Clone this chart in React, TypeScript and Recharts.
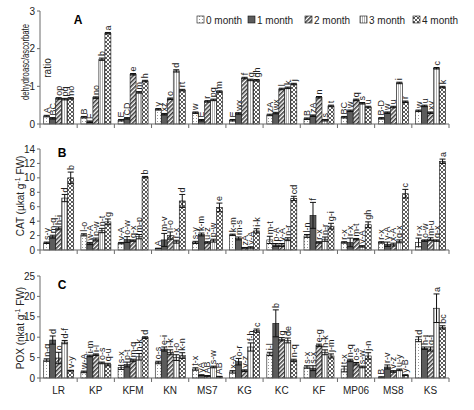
import React from 'react'
import { BarChart, Bar, XAxis, YAxis, ErrorBar } from 'recharts'

const categories = ['LR', 'KP', 'KFM', 'KN', 'MS7', 'KG', 'KC', 'KF', 'MP06', 'MS8', 'KS']
const months = ['0 month', '1 month', '2 month', '3 month', '4 month']

// A: dehydroascorbate / ascorbate ratio, one array per month
const ratioValues = [
  [0.21, 0.18, 0.1, 0.39, 0.3, 0.1, 0.24, 0.14, 0.18, 0.15, 0.35],
  [0.15, 0.06, 0.15, 0.26, 0.1, 0.28, 0.29, 0.22, 0.35, 0.3, 0.48],
  [0.68, 0.7, 1.32, 0.67, 0.6, 1.22, 0.93, 0.71, 0.64, 0.45, 0.3],
  [0.66, 1.72, 0.84, 1.41, 0.64, 1.17, 0.96, 0.1, 0.55, 1.09, 1.48],
  [0.68, 2.41, 1.14, 0.9, 0.86, 1.16, 1.06, 0.48, 0.45, 0.59, 0.98],
]
const ratioErrors = [
  [0.02, 0.02, 0.02, 0.02, 0.02, 0.02, 0.02, 0.02, 0.02, 0.02, 0.02],
  [0.02, 0.02, 0.02, 0.02, 0.02, 0.02, 0.02, 0.02, 0.02, 0.02, 0.02],
  [0.02, 0.02, 0.02, 0.02, 0.02, 0.02, 0.02, 0.02, 0.02, 0.02, 0.02],
  [0.02, 0.03, 0.02, 0.03, 0.02, 0.02, 0.02, 0.02, 0.02, 0.02, 0.02],
  [0.02, 0.02, 0.02, 0.02, 0.02, 0.02, 0.02, 0.02, 0.02, 0.02, 0.02],
]
const ratioLetters = [
  ['A', 'B', 'E', 'y', 'w', 'E', 'zA', 'B', 'BC', 'B-D', 'w'],
  ['BC', 'F', 'CD', 'xz', 'E', 'wx', 'wx', 'zA', 'w', 'w', 'u'],
  ['op', 'no', 'e', 'o', 'r', 'f', 'l', 'n', 'q', 'u', 'xy'],
  ['pq', 'b', 'm', 'd', 'pq', 'g', 'k', 's', 's', 'i', 'c'],
  ['no', 'a', 'h', 'rt', 'm', 'gh', 'j', 't', 'u', 'r', 'k'],
]

// B: CAT
const catValues = [
  [1.0, 2.1, 0.95, 0.2, 1.05, 2.1, 1.4, 1.95, 1.05, 1.05, 1.05],
  [1.85, 0.9, 1.45, 1.4, 2.15, 1.6, 0.7, 4.8, 1.05, 0.8, 1.3],
  [3.0, 1.45, 1.3, 2.0, 1.05, 0.3, 0.7, 1.05, 1.5, 0.75, 1.5],
  [7.2, 2.7, 1.85, 1.15, 1.3, 0.35, 1.5, 1.5, 0.5, 1.2, 1.3],
  [10.0, 3.9, 10.1, 6.8, 5.9, 2.65, 7.15, 3.3, 3.5, 7.8, 12.3],
]
const catErrors = [
  [0.1, 0.15, 0.1, 0.05, 0.15, 0.1, 0.5, 0.2, 0.1, 0.1, 0.6],
  [0.2, 0.15, 0.4, 0.9, 0.2, 0.2, 0.2, 1.8, 0.6, 0.3, 0.1],
  [0.2, 0.2, 0.1, 0.5, 0.1, 0.05, 0.2, 0.1, 0.1, 0.2, 0.2],
  [0.5, 0.3, 0.3, 0.2, 0.2, 0.1, 0.2, 0.3, 0.1, 0.2, 0.1],
  [0.8, 0.4, 0.1, 0.9, 0.6, 0.3, 0.3, 0.4, 0.4, 0.6, 0.3],
]
const catLetters = [
  ['s-y', 'l-o', 'v-A', 'A', 's-y', 'k-m', 'm-t', 'l-n', 'r-x', 'r-x', 'r-x'],
  ['m-q', 'w-A', 'o-w', 'm-v', 'k-m', 'm-s', 'p-A', 'f', 'r-x', 'y-A', 'o-w'],
  ['h-j', 'p-w', 'q-x', 'l-o', 'u-z', 'zA', 'y-A', 'r-x', 'm-t', 'x-A', 'm-u'],
  ['d', 'n-t', 'm-p', 'r-x', 'p-w', 'y-A', 'n-r', 'n-r', 'y-A', 'q-x', 'q-x'],
  ['b', 'g', 'b', 'd', 'e', 'i-k', 'cd', 'g-i', 'gh', 'c', 'a'],
]

// C: POX
const poxValues = [
  [4.4, 1.5, 2.6, 3.8, 2.2, 1.5, 5.9, 2.7, 2.2, 0.2, 9.5],
  [9.3, 5.4, 3.3, 7.1, 0.7, 4.0, 13.4, 2.4, 4.3, 2.7, 7.3],
  [4.9, 5.7, 4.3, 6.3, 0.5, 1.8, 9.5, 8.0, 3.5, 1.6, 7.1],
  [8.8, 3.7, 5.2, 5.0, 2.7, 7.6, 9.2, 6.3, 2.7, 2.0, 17.1],
  [1.8, 3.3, 9.9, 5.5, 0.3, 11.6, 4.3, 5.4, 5.4, 0.7, 12.4],
]
const poxErrors = [
  [0.3, 0.2, 0.5, 0.3, 0.3, 0.3, 0.4, 0.3, 0.7, 0.1, 0.6],
  [1.0, 0.2, 0.6, 0.5, 0.1, 0.8, 3.3, 0.6, 0.3, 0.5, 0.3],
  [1.4, 0.2, 0.3, 0.6, 0.1, 0.2, 0.4, 0.3, 0.3, 0.2, 0.5],
  [0.4, 0.2, 0.8, 0.7, 0.2, 1.0, 0.6, 0.6, 0.2, 0.2, 3.5],
  [0.1, 0.3, 0.2, 0.7, 0.1, 0.4, 0.3, 0.5, 0.8, 0.1, 0.4],
]
const poxLetters = [
  ['n-q', 'w-A', 's-x', 'o-s', 't-x', 'x-A', 'i-l', 's-x', 't-x', 'B', 'd'],
  ['d', 'i-m', 'p-t', 'e-i', 'yA', 'o-r', 'b', 's-x', 'n-q', 'r-v', 'h-j'],
  ['o', 'i-l', 'm-q', 'i-k', 'AB', 'v-z', 'g', 'e-g', 'o-s', 'v-z', 'g-i'],
  ['d-f', 'o-s', 'h-k', 'i-o', 's-w', 'f-h', 'de', 'h-k', 's-w', 'u-y', 'a'],
  ['v-y', 'q-u', 'd', 'k-n', 'AB', 'c', 'n-q', 'j-m', 'j-n', 'y-B', 'bc'],
]

const FONT = '"Liberation Sans", Arial, sans-serif'
const AXIS = '#6b6b6b'
const PLOT_W = 474 - 40 - 25
const BAND = PLOT_W / categories.length

function buildRows(values: number[][], errors: number[][], letters: string[][]) {
  return categories.map((cat, i) => {
    const row: Record<string, string | number> = { cat }
    months.forEach((_, m) => {
      row[`v${m}`] = values[m][i]
      row[`e${m}`] = errors[m][i]
      row[`t${m}`] = letters[m][i]
    })
    return row
  })
}

function makeShape(m: number) {
  return (props: any) => {
    const { x, y, width, height, payload } = props
    const value = payload[`v${m}`] as number
    const err = payload[`e${m}`] as number
    const ppu = value > 0 ? height / value : 0
    const top = y - err * ppu - 2
    const cx = x + width / 2
    return (
      <g>
        <rect
          x={x}
          y={y}
          width={width}
          height={height}
          fill={`url(#pm${m})`}
          stroke="#111"
          strokeWidth={0.6}
        />
        <text
          x={cx}
          y={top}
          transform={`rotate(-90, ${cx}, ${top})`}
          textAnchor="start"
          dominantBaseline="central"
          fontSize={9}
          fontFamily={FONT}
          fill="#222"
        >
          {payload[`t${m}`]}
        </text>
      </g>
    )
  }
}

function CatTick(props: any) {
  const { x, y, payload, index, showLabel } = props
  const left = x - BAND / 2
  return (
    <g>
      <line x1={left} y1={y} x2={left} y2={y + 4} stroke={AXIS} />
      {index === categories.length - 1 && (
        <line x1={x + BAND / 2} y1={y} x2={x + BAND / 2} y2={y + 4} stroke={AXIS} />
      )}
      {showLabel && (
        <text x={x} y={y + 16} textAnchor="middle" fontSize={10} fontFamily={FONT} fill="#222">
          {payload.value}
        </text>
      )}
    </g>
  )
}

interface PanelProps {
  top: number
  height: number
  axisHeight: number
  rows: Record<string, string | number>[]
  domain: [number, number]
  ticks: number[]
  showLabels: boolean
}

function Panel({ top, height, axisHeight, rows, domain, ticks, showLabels }: PanelProps) {
  return (
    <div style={{ position: 'absolute', left: 0, top }}>
      <BarChart
        width={474}
        height={height}
        data={rows}
        margin={{ top: 11, right: 25, bottom: 0, left: 0 }}
        barCategoryGap="10%"
        barGap={0}
      >
        <XAxis
          dataKey="cat"
          height={axisHeight}
          axisLine={{ stroke: AXIS }}
          tickLine={false}
          tickSize={0}
          tickMargin={0}
          interval={0}
          tick={<CatTick showLabel={showLabels} />}
        />
        <YAxis
          width={40}
          domain={domain}
          ticks={ticks}
          interval={0}
          axisLine={{ stroke: AXIS }}
          tickLine={{ stroke: AXIS }}
          tickSize={3}
          tick={{ fontSize: 10, fontFamily: FONT, fill: '#222' }}
        />
        {months.map((name, m) => (
          <Bar
            key={name}
            dataKey={`v${m}`}
            name={name}
            fill={`url(#pm${m})`}
            shape={makeShape(m)}
            isAnimationActive={false}
          >
            <ErrorBar dataKey={`e${m}`} width={3} stroke="#111" strokeWidth={1} direction="y" />
          </Bar>
        ))}
      </BarChart>
    </div>
  )
}

const legendX = [197, 248, 305, 360, 413]

export default function App() {
  return (
    <div
      style={{
        position: 'absolute',
        left: 0,
        top: 0,
        width: 474,
        height: 410,
        background: '#fff',
        fontFamily: FONT,
      }}
    >
      <Panel
        top={0}
        height={130}
        axisHeight={6}
        rows={buildRows(ratioValues, ratioErrors, ratioLetters)}
        domain={[0, 3]}
        ticks={[0, 1, 2, 3]}
        showLabels={false}
      />
      <Panel
        top={138}
        height={118}
        axisHeight={6}
        rows={buildRows(catValues, catErrors, catLetters)}
        domain={[0, 14]}
        ticks={[0, 2, 4, 6, 8, 10, 12, 14]}
        showLabels={false}
      />
      <Panel
        top={265}
        height={145}
        axisHeight={32}
        rows={buildRows(poxValues, poxErrors, poxLetters)}
        domain={[0, 25]}
        ticks={[0, 5, 10, 15, 20, 25]}
        showLabels={true}
      />
      <svg
        width={474}
        height={410}
        style={{ position: 'absolute', left: 0, top: 0, pointerEvents: 'none' }}
      >
        <defs>
          <pattern id="pm0" width="3" height="3" patternUnits="userSpaceOnUse">
            <rect width="3" height="3" fill="#fff" />
            <rect x="1" y="1" width="1" height="1" fill="#9a9a9a" />
          </pattern>
          <pattern id="pm1" width="3" height="3" patternUnits="userSpaceOnUse">
            <rect width="3" height="3" fill="#5c5c5c" />
          </pattern>
          <pattern id="pm2" width="3" height="3" patternUnits="userSpaceOnUse" patternTransform="rotate(45)">
            <rect width="3" height="3" fill="#fff" />
            <line x1="0.8" y1="0" x2="0.8" y2="3" stroke="#333" strokeWidth="1.5" />
          </pattern>
          <pattern id="pm3" width="2" height="2" patternUnits="userSpaceOnUse">
            <rect width="2" height="2" fill="#fff" />
            <line x1="0.5" y1="0" x2="0.5" y2="2" stroke="#b0b0b0" strokeWidth="1" />
          </pattern>
          <pattern id="pm4" width="4" height="4" patternUnits="userSpaceOnUse">
            <rect width="4" height="4" fill="#fff" />
            <path d="M0,0 L4,4 M4,0 L0,4" stroke="#333" strokeWidth="0.8" />
          </pattern>
        </defs>

        {months.map((name, m) => (
          <g key={name}>
            <rect x={legendX[m]} y={16} width={7} height={7} fill={`url(#pm${m})`} stroke="#111" strokeWidth={0.6} />
            <text x={legendX[m] + 9} y={23.5} fontSize={10} fontFamily={FONT} fill="#222">
              {name}
            </text>
          </g>
        ))}

        <text x={78} y={24} fontSize={12} fontWeight="bold" fontFamily={FONT} textAnchor="middle">A</text>
        <text x={62} y={157} fontSize={12} fontWeight="bold" fontFamily={FONT} textAnchor="middle">B</text>
        <text x={62} y={289} fontSize={12} fontWeight="bold" fontFamily={FONT} textAnchor="middle">C</text>

        <text
          transform="translate(25,62) rotate(-90)"
          textAnchor="middle"
          dominantBaseline="central"
          fontSize={10}
          fontFamily={FONT}
          fill="#222"
          textLength={76}
          lengthAdjust="spacingAndGlyphs"
        >
          dehydroasc/ascorbate
        </text>
        <text
          transform="translate(47,68) rotate(-90)"
          textAnchor="middle"
          dominantBaseline="central"
          fontSize={10}
          fontFamily={FONT}
          fill="#222"
        >
          ratio
        </text>
        <text
          transform="translate(20,196) rotate(-90)"
          textAnchor="middle"
          dominantBaseline="central"
          fontSize={10}
          fontFamily={FONT}
          fill="#222"
        >
          CAT  (µkat g<tspan dy={-3} fontSize={7}>-1</tspan><tspan dy={3}> FW)</tspan>
        </text>
        <text
          transform="translate(20,328) rotate(-90)"
          textAnchor="middle"
          dominantBaseline="central"
          fontSize={10}
          fontFamily={FONT}
          fill="#222"
        >
          POX (nkat g<tspan dy={-3} fontSize={7}>-1</tspan><tspan dy={3}> FW)</tspan>
        </text>
      </svg>
    </div>
  )
}
